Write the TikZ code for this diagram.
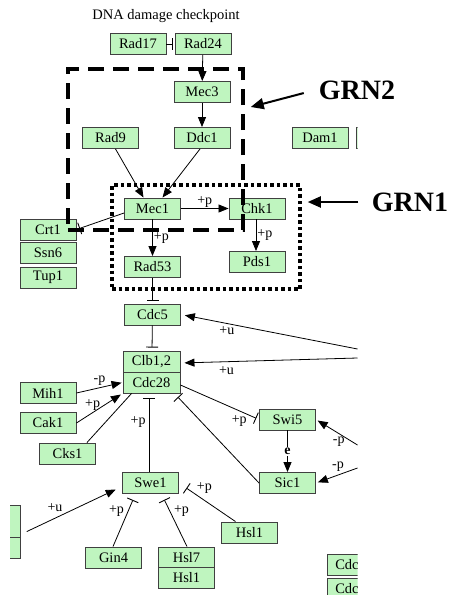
\documentclass[tikz,border=0pt]{standalone}
\usepackage{fontspec}
\setmainfont{Liberation Serif}
\usepackage{tikz}
\usetikzlibrary{arrows.meta}
\definecolor{genegreen}{RGB}{191,245,191}
\newcommand{\genefont}{\fontsize{14.5}{16}\selectfont}
\newcommand{\labelfont}{\fontsize{14}{16}\selectfont}
\newcommand{\grnfont}{\fontsize{28}{30}\selectfont\bfseries}

\begin{document}
\begin{tikzpicture}[x=1pt, y=-1pt,
			gene/.style={rectangle, draw=black!75, fill=genegreen, line width=0.9pt, minimum width=56pt, minimum height=21pt, inner sep=0pt, font=\genefont},
			lbl/.style={font=\labelfont, inner sep=1pt},
			act/.style={-{Triangle[length=10pt,width=8pt]}, line width=0.8pt},
			inh/.style={-{Bar[width=12pt,line width=0.9pt]}, line width=0.8pt},
			link/.style={line width=0.8pt},
			grntwo/.style={rectangle, draw, line width=3.5pt, dash pattern=on 16pt off 9pt, minimum width=175pt, minimum height=161pt},
			grnone/.style={rectangle, draw, line width=3.5pt, dash pattern=on 3.5pt off 3pt, minimum width=188pt, minimum height=104pt},
			grnarrow/.style={-{Triangle[length=13pt,width=11pt]}, line width=2pt},
			]
			\useasboundingbox (0,0) rectangle (451,595);
			\begin{scope}
			\clip (10,0) rectangle (357.5,595);
			% Title
			\node[font=\genefont] (title) at (166,16) {DNA damage checkpoint};
			% Checkpoint genes
			\node[gene] (rad17) at (138,44) {Rad17};
			\node[gene] (rad24) at (203,44) {Rad24};
			\node[gene] (mec3) at (202,92) {Mec3};
			\node[gene] (ddc1) at (202,138) {Ddc1};
			\node[gene] (rad9) at (110.5,138) {Rad9};
			\node[gene] (dam1) at (320,138) {Dam1};
			\node[gene, anchor=west] (cutA) at (355.5,138) {};
			\node[gene] (mec1) at (152.5,208.5) {Mec1};
			\node[gene] (chk1) at (257,208.5) {Chk1};
			\node[gene] (crt1) at (48,229.5) {Crt1};
			\node[gene] (ssn6) at (48,253) {Ssn6};
			\node[gene] (tup1) at (48,277.5) {Tup1};
			\node[gene] (rad53) at (152.5,267) {Rad53};
			\node[gene] (pds1) at (257,262) {Pds1};
			% Cell cycle genes
			\node[gene] (cdc5) at (152.5,314.5) {Cdc5};
			\node[gene, minimum width=57pt] (clb12) at (151.5,361.5) {Clb1,2};
			\node[gene, minimum width=57pt] (cdc28) at (151.5,382.5) {Cdc28};
			\node[gene] (mih1) at (48,393) {Mih1};
			\node[gene] (cak1) at (48,423) {Cak1};
			\node[gene] (cks1) at (67.5,453.5) {Cks1};
			\node[gene] (swi5) at (287.5,419.5) {Swi5};
			\node[gene] (sic1) at (287.5,483) {Sic1};
			\node[gene] (swe1) at (150.5,483) {Swe1};
			\node[gene] (hsl1) at (249.5,532.5) {Hsl1};
			\node[gene] (gin4) at (113.5,557.5) {Gin4};
			\node[gene] (hsl7) at (186.5,557.5) {Hsl7};
			\node[gene] (hsl1b) at (186.5,578) {Hsl1};
			\node[gene, minimum height=32pt] (cutB) at (-8,521) {};
			\node[gene] (cutC) at (-8,547.5) {};
			\node[gene, anchor=west, text width=50pt, align=left] (cdcA) at (327,564.5) {~Cdc};
			\node[gene, anchor=west, text width=50pt, align=left] (cdcB) at (327,588.5) {~Cdc};
			% Free ends at the cut edge
			\coordinate (uA) at (357.5,349);
			\coordinate (uB) at (357.5,358);
			\coordinate (pA) at (357.5,445);
			\coordinate (pB) at (357.5,468);

			% Checkpoint links
			\draw[inh, shorten >=2pt] (rad17) -- (rad24);
			\draw[act] (rad24) -- (mec3);
			\draw[act] (mec3) -- (ddc1);
			\draw[act] ([xshift=5pt]rad9.south) -- ([xshift=-9pt]mec1.north);
			\draw[act] ([xshift=-2pt]ddc1.south) -- ([xshift=10pt]mec1.north);
			\draw[act] (mec1) -- (chk1) node[lbl, midway, above] {+p};
			\draw[inh, shorten >=3pt] ([yshift=-4.5pt]mec1.west) -- (crt1.east);
			\draw[act] (mec1) -- (rad53) node[lbl, midway, right] {+p};
			\draw[act] ([xshift=-1pt]chk1.south) -- ([xshift=-1pt]pds1.north) node[lbl, midway, right] {+p};

			% Cell cycle links
			\draw[inh, shorten >=3pt] (rad53) -- (cdc5);
			\draw[inh, shorten >=3pt] (cdc5) -- ([xshift=0.5pt]clb12.north);
			\draw[act, shorten >=4pt] (uA) -- (cdc5.east) node[lbl, pos=0.74, below=2pt] {+u};
			\draw[act, shorten >=4pt] (uB) -- ([yshift=-1.5pt]clb12.east) node[lbl, pos=0.74, below=3pt] {+u};
			\draw[act, shorten >=1pt] (mih1.east) -- (cdc28.west) node[lbl, midway, above=1pt] {-p};
			\draw[act, shorten >=2pt] (cak1.east) -- (cdc28.south west) node[lbl, pos=0.35, above=1pt] {+p};
			\draw[link] ([xshift=-9pt]cks1.north east) -- ([xshift=9pt]cdc28.south west);
			\draw[inh, shorten >=5pt] ([xshift=-1.5pt]swe1.north) -- ([xshift=-2.5pt]cdc28.south) node[lbl, pos=0.64, left=2pt] {+p};
			\draw[inh, shorten >=5pt] (sic1.west) -- ([xshift=-6pt]cdc28.south east);
			\draw[inh, shorten >=3pt] ([yshift=-2.5pt]cdc28.east) -- (swi5.west) node[lbl, pos=0.86, below left] {+p};
			\draw[act] (swi5) -- node[lbl, fill=white, font=\labelfont\bfseries] {e} (sic1);
			\draw[act, shorten >=2pt] (pA) -- (swi5.east) node[lbl, pos=0.45, below=2pt] {-p};
			\draw[act, shorten >=2pt] (pB) -- (sic1.east) node[lbl, pos=0.47, above=2pt] {-p};
			\draw[act, shorten <=7pt, shorten >=7pt] ([yshift=2pt]cutC.north east) -- ([yshift=-3.5pt]swe1.west) node[lbl, pos=0.34, above=5pt] {+u};
			\draw[inh, shorten >=6.5pt] ([xshift=-0.5pt]gin4.north) -- ([xshift=-15pt]swe1.south) node[lbl, pos=0.68, left=3pt] {+p};
			\draw[inh, shorten >=6.5pt] ([xshift=0.5pt]hsl7.north) -- ([xshift=11pt]swe1.south) node[lbl, pos=0.68, right=3pt] {+p};
			\draw[inh, shorten >=9pt] ([xshift=-14pt]hsl1.north) -- (swe1.east) node[lbl, pos=0.55, above=5pt] {+p};
			\end{scope}

			% GRN regions
			\node[grntwo] (grn2) at (155.5,149.5) {};
			\node[grnone] (grn1) at (206,237) {};
			\node[font=\grnfont] (lblgrn2) at (357,90) {GRN2};
			\node[font=\grnfont] (lblgrn1) at (410,202) {GRN1};
			\draw[grnarrow, shorten <=12pt] (lblgrn2.west) -- ([xshift=6pt,yshift=42.5pt]grn2.east);
			\draw[grnarrow, shorten <=10pt] (lblgrn1.west) -- ([xshift=6pt,yshift=35pt]grn1.east);
		\end{tikzpicture}
\end{document}
